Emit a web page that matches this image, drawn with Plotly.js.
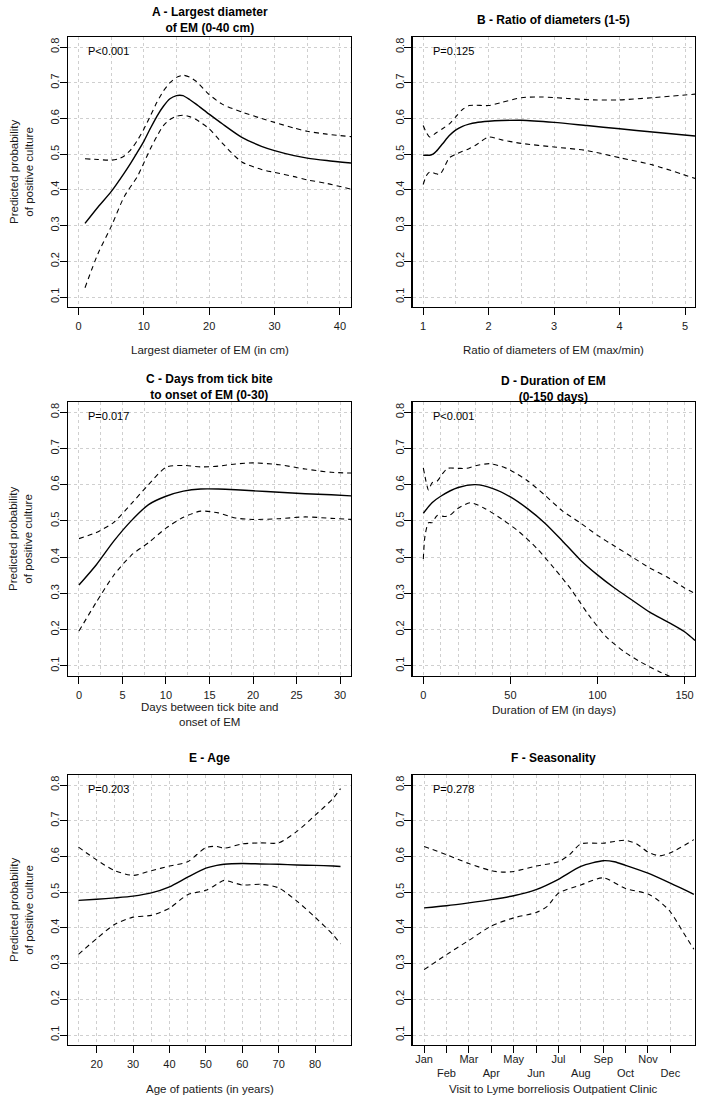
<!DOCTYPE html>
<html>
<head>
<meta charset="utf-8">
<script src="https://cdn.plot.ly/plotly-3.0.1.min.js"></script>
<style>html,body{margin:0;padding:0;background:#fff;}#chart{width:703px;height:1102px;}</style>
</head>
<body>
<div id="chart"></div>
<script>
// ---------- Data ----------
// A - Largest diameter of EM
const aX      = [1, 3, 5, 7, 8, 9, 10, 11, 12, 13, 14, 15, 15.5, 16, 17, 18, 20, 22, 25, 28, 30, 33, 35, 38, 41.7];
const aFit    = [0.306, 0.352, 0.395, 0.447, 0.475, 0.505, 0.536, 0.572, 0.606, 0.634, 0.655, 0.664, 0.665, 0.664, 0.653, 0.640, 0.612, 0.585, 0.547, 0.522, 0.510, 0.496, 0.489, 0.482, 0.475];
const aUpperX = [1, 3, 5, 6, 7, 8, 9, 10, 11, 12, 13, 14, 15, 16, 17, 18, 20, 22, 25, 28, 30, 33, 35, 38, 41.7];
const aUpper  = [0.487, 0.485, 0.483, 0.486, 0.495, 0.512, 0.538, 0.570, 0.607, 0.645, 0.677, 0.700, 0.715, 0.721, 0.716, 0.704, 0.667, 0.640, 0.618, 0.600, 0.589, 0.573, 0.564, 0.556, 0.549];
const aLowerX = [1, 3, 5, 7, 9, 10, 11, 12, 13, 14, 15, 16, 17, 18, 20, 22, 25, 28, 30, 33, 35, 38, 41.7];
const aLower  = [0.126, 0.222, 0.297, 0.381, 0.437, 0.475, 0.515, 0.550, 0.580, 0.597, 0.606, 0.609, 0.605, 0.597, 0.571, 0.531, 0.478, 0.457, 0.449, 0.437, 0.428, 0.418, 0.402];

// B - Ratio of diameters
const bX      = [1, 1.05, 1.1, 1.15, 1.2, 1.3, 1.4, 1.5, 1.6, 1.7, 1.8, 2.0, 2.2, 2.5, 3.0, 3.5, 4.0, 4.5, 5.15];
const bFit    = [0.497, 0.497, 0.497, 0.500, 0.508, 0.530, 0.552, 0.568, 0.578, 0.584, 0.588, 0.592, 0.594, 0.595, 0.589, 0.580, 0.571, 0.562, 0.551];
const bUpperX = [1, 1.05, 1.1, 1.2, 1.3, 1.4, 1.5, 1.6, 1.7, 1.8, 2.0, 2.2, 2.5, 2.8, 3.2, 3.6, 4.0, 4.5, 5.15];
const bUpper  = [0.580, 0.560, 0.548, 0.560, 0.572, 0.585, 0.605, 0.625, 0.636, 0.637, 0.636, 0.645, 0.658, 0.660, 0.656, 0.652, 0.652, 0.658, 0.668];
const bLowerX = [1, 1.05, 1.1, 1.2, 1.25, 1.3, 1.4, 1.5, 1.6, 1.7, 1.8, 2.0, 2.2, 2.5, 3.0, 3.5, 4.0, 4.5, 5.15];
const bLower  = [0.415, 0.440, 0.450, 0.445, 0.443, 0.455, 0.490, 0.500, 0.508, 0.515, 0.525, 0.548, 0.540, 0.530, 0.520, 0.510, 0.490, 0.470, 0.432];

// C - Days from tick bite to onset of EM
const cX      = [0, 2, 4, 6, 8, 10, 12, 14, 16, 18, 20, 23, 26, 29, 31.3];
const cFit    = [0.323, 0.379, 0.444, 0.500, 0.545, 0.568, 0.582, 0.588, 0.588, 0.586, 0.583, 0.579, 0.575, 0.572, 0.569];
const cUpper  = [0.451, 0.468, 0.496, 0.547, 0.600, 0.648, 0.653, 0.649, 0.651, 0.657, 0.660, 0.655, 0.643, 0.634, 0.632];
const cLower  = [0.196, 0.276, 0.350, 0.405, 0.440, 0.480, 0.510, 0.527, 0.522, 0.508, 0.504, 0.506, 0.511, 0.507, 0.504];

// D - Duration of EM
const dX      = [0, 5, 10, 20, 30, 40, 50, 60, 70, 80, 90, 100, 110, 120, 130, 140, 150, 156];
const dFit    = [0.521, 0.550, 0.568, 0.592, 0.600, 0.589, 0.566, 0.533, 0.493, 0.444, 0.393, 0.351, 0.314, 0.281, 0.248, 0.222, 0.194, 0.170];
const dUpperX = [0, 1.5, 3, 5, 8, 11, 14, 20, 25, 30, 38, 45, 50, 60, 70, 80, 90, 100, 110, 120, 130, 140, 150, 156];
const dUpper  = [0.646, 0.610, 0.585, 0.605, 0.610, 0.630, 0.645, 0.645, 0.645, 0.652, 0.658, 0.650, 0.640, 0.610, 0.570, 0.527, 0.495, 0.460, 0.430, 0.400, 0.370, 0.345, 0.315, 0.300];
const dLowerX = [0, 1, 3, 5, 8, 12, 15, 20, 27, 35, 45, 55, 65, 75, 85, 95, 105, 115, 125, 135, 142];
const dLower  = [0.395, 0.460, 0.495, 0.495, 0.515, 0.512, 0.515, 0.535, 0.550, 0.535, 0.505, 0.470, 0.425, 0.370, 0.310, 0.240, 0.180, 0.140, 0.110, 0.085, 0.070];

// E - Age
const eX      = [15, 20, 25, 30, 35, 40, 45, 50, 53, 55, 60, 65, 70, 75, 80, 85, 87];
const eFit    = [0.477, 0.480, 0.484, 0.489, 0.498, 0.515, 0.542, 0.567, 0.575, 0.578, 0.580, 0.579, 0.578, 0.576, 0.575, 0.573, 0.572];
const eUpper  = [0.626, 0.590, 0.560, 0.547, 0.560, 0.573, 0.585, 0.625, 0.628, 0.623, 0.635, 0.638, 0.638, 0.670, 0.715, 0.763, 0.790];
const eLower  = [0.326, 0.370, 0.410, 0.430, 0.435, 0.455, 0.493, 0.505, 0.522, 0.533, 0.520, 0.522, 0.512, 0.475, 0.430, 0.380, 0.355];

// F - Seasonality (1 = Jan)
const monthLabels = ["Jan", "Feb", "Mar", "Apr", "May", "Jun", "Jul", "Aug", "Sep", "Oct", "Nov", "Dec"];
const fX      = [1, 2, 3, 4, 5, 6, 7, 8, 9, 9.5, 10, 11, 12, 13.05];
const fFit    = [0.456, 0.462, 0.470, 0.479, 0.490, 0.507, 0.536, 0.572, 0.588, 0.585, 0.575, 0.553, 0.525, 0.494];
const fUpperX = [1, 2, 3, 4, 4.5, 5, 6, 7, 7.5, 8, 9, 9.5, 10, 10.5, 11, 11.5, 12, 13.05];
const fUpper  = [0.628, 0.605, 0.580, 0.560, 0.556, 0.558, 0.573, 0.585, 0.605, 0.635, 0.637, 0.642, 0.645, 0.635, 0.612, 0.602, 0.610, 0.647];
const fLowerX = [1, 2, 3, 4, 5, 6, 6.5, 7, 8, 9, 10, 11, 11.5, 12, 12.5, 13.05];
const fLower  = [0.283, 0.325, 0.365, 0.405, 0.428, 0.443, 0.460, 0.497, 0.520, 0.540, 0.510, 0.495, 0.475, 0.445, 0.395, 0.340];

const pValues = ["P<0.001", "P=0.125", "P=0.017", "P<0.001", "P=0.203", "P=0.278"];
const panelTitles = ["A - Largest diameter<br>of EM (0-40 cm)", "B - Ratio of diameters (1-5)",
  "C - Days from tick bite<br>to onset of EM (0-30)", "D - Duration of EM<br>(0-150 days)",
  "E - Age", "F - Seasonality"];
const xTitles = ["Largest diameter of EM (in cm)", "Ratio of diameters of EM (max/min)",
  "Days between tick bite and<br>onset of EM", "Duration of EM (in days)",
  "Age of patients (in years)", "Visit to Lyme borreliosis Outpatient Clinic"];
const yTitle = "Predicted probability<br>of positive culture";

// ---------- Layout helpers ----------
const W = 703, H = 1102;
const px = v => v / W;
const py = v => 1 - v / H;
const FONT = "Liberation Sans, Arial, sans-serif";

const cols = [[68, 351], [412.7, 695]];
const rows = [[37, 307], [402, 676], [775, 1045]];

const solid = {color: "#000", width: 1.4};
const dashed = {color: "#000", width: 1.1, dash: "5px,4px"};

function tr(x, y, k, line) {
  return {x: x, y: y, xaxis: "x" + (k === 1 ? "" : k), yaxis: "y" + (k === 1 ? "" : k),
    type: "scatter", mode: "lines", line: Object.assign({shape: "spline", smoothing: 0.7}, line),
    hoverinfo: "skip", showlegend: false};
}

const traces = [
  tr(aX, aFit, 1, solid), tr(aUpperX, aUpper, 1, dashed), tr(aLowerX, aLower, 1, dashed),
  tr(bX, bFit, 2, solid), tr(bUpperX, bUpper, 2, dashed), tr(bLowerX, bLower, 2, dashed),
  tr(cX, cFit, 3, solid), tr(cX, cUpper, 3, dashed), tr(cX, cLower, 3, dashed),
  tr(dX, dFit, 4, solid), tr(dUpperX, dUpper, 4, dashed), tr(dLowerX, dLower, 4, dashed),
  tr(eX, eFit, 5, solid), tr(eX, eUpper, 5, dashed), tr(eX, eLower, 5, dashed),
  tr(fX, fFit, 6, solid), tr(fUpperX, fUpper, 6, dashed), tr(fLowerX, fLower, 6, dashed)
];

const xSpecs = [
  {range: [-1.6, 41.7], tick0: 0, dtick: 10, minor: 5},
  {range: [0.84, 5.15], tick0: 1, dtick: 1, minor: 0.5},
  {range: [-1.26, 31.26], tick0: 0, dtick: 5, minor: 2.5},
  {range: [-6.1, 156], tick0: 0, dtick: 50, minor: 10},
  {range: [12.12, 89.88], tick0: 0, dtick: 10, minor: 5},
  {range: [0.49, 13.1], months: true}
];

const layout = {
  width: W, height: H, margin: {l: 0, r: 0, t: 0, b: 0},
  paper_bgcolor: "#fff", plot_bgcolor: "#fff", showlegend: false,
  font: {family: FONT, size: 11, color: "#1a1a1a"},
  annotations: []
};

const gridColor = "#cfcfcf";

for (let i = 0; i < 6; i++) {
  const k = i + 1;
  const c = cols[i % 2], r = rows[Math.floor(i / 2)];
  const s = xSpecs[i];
  const xa = {
    domain: [px(c[0]), px(c[1])], anchor: "y" + (k === 1 ? "" : k), range: s.range,
    showline: true, mirror: true, linecolor: "#000", linewidth: 1.3,
    ticks: "outside", ticklen: 7, tickwidth: 1, tickcolor: "#000",
    showgrid: true, gridcolor: gridColor, griddash: "dot", gridwidth: 1,
    zeroline: false, tickfont: {family: FONT, size: 11, color: "#1a1a1a"},
    ticklabelstandoff: 1, fixedrange: true
  };
  if (s.months) {
    xa.tickmode = "array";
    xa.tickvals = monthLabels.map((m, j) => j + 1);
    xa.ticktext = monthLabels.map((m, j) => j % 2 === 0 ? m : "<br>" + m);
    xa.ticklabelstandoff = -4;
  } else {
    xa.tick0 = s.tick0; xa.dtick = s.dtick;
    xa.minor = {tick0: s.tick0, dtick: s.minor, showgrid: true, gridcolor: gridColor, griddash: "dot", gridwidth: 1, ticks: ""};
  }
  const ya = {
    domain: [py(r[1]), py(r[0])], anchor: "x" + (k === 1 ? "" : k), range: [0.072, 0.828],
    showline: true, mirror: true, linecolor: "#000", linewidth: 1.3,
    ticks: "outside", ticklen: 7, tickwidth: 1, tickcolor: "#000",
    tick0: 0.1, dtick: 0.1, tickformat: ".1f", tickangle: -90,
    showgrid: true, gridcolor: gridColor, griddash: "dot", gridwidth: 1,
    zeroline: false, tickfont: {family: FONT, size: 11, color: "#1a1a1a"},
    ticklabelstandoff: -4, fixedrange: true
  };
  layout["xaxis" + (k === 1 ? "" : k)] = xa;
  layout["yaxis" + (k === 1 ? "" : k)] = ya;

  const cx = (c[0] + c[1]) / 2;
  const titleY = [20, 20, 387, 389, 758, 758][i];
  layout.annotations.push({text: "<b>" + panelTitles[i] + "</b>", xref: "paper", yref: "paper",
    x: px(cx), y: py(titleY), xanchor: "center", yanchor: "middle", showarrow: false,
    font: {family: FONT, size: 12, color: "#000"}});
  layout.annotations.push({text: pValues[i], xref: "paper", yref: "paper",
    x: px(i % 2 === 0 ? 86 : 431), y: py(r[0] + 14), xanchor: "left", yanchor: "middle", showarrow: false,
    font: {family: FONT, size: 11, color: "#000"}});
  const xtY = [350, 350, 714, 710, 1089, 1089][i];
  layout.annotations.push({text: xTitles[i], xref: "paper", yref: "paper",
    x: px(cx), y: py(xtY), xanchor: "center", yanchor: "middle", showarrow: false,
    font: {family: FONT, size: 11.5, color: "#1a1a1a"}});
  if (i % 2 === 0) {
    layout.annotations.push({text: yTitle, xref: "paper", yref: "paper", textangle: -90,
      x: px(21), y: py((r[0] + r[1]) / 2), xanchor: "center", yanchor: "middle", showarrow: false,
      font: {family: FONT, size: 11.5, color: "#1a1a1a"}});
  }
}

Plotly.newPlot("chart", traces, layout, {displayModeBar: false, staticPlot: true});
</script>
</body>
</html>
